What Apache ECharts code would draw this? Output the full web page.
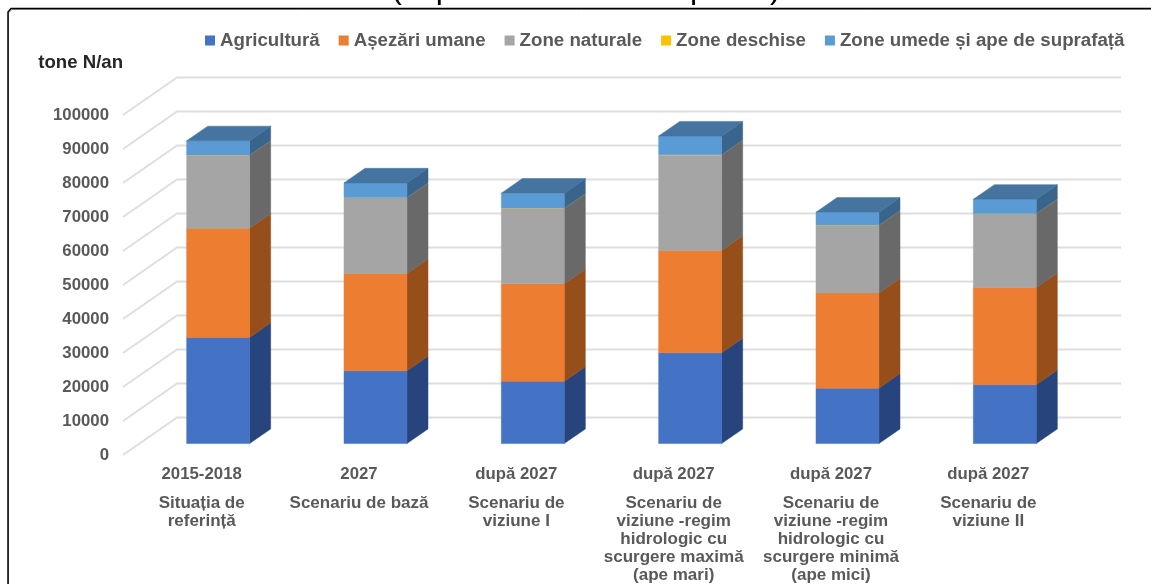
<!DOCTYPE html>
<html>
<head>
<meta charset="utf-8">
<style>
html,body{margin:0;padding:0;background:#fff;}
#c{width:1151px;height:584px;filter:blur(0.4px);}
</style>
<script src="https://cdn.jsdelivr.net/npm/echarts@6/dist/echarts.min.js"></script>
</head>
<body>
<div id="c"></div>
<script>
var titleText = '(exprimate în tone N pe an)';
var yName = 'tone N/an';
var years = ['2015-2018','2027','după 2027','după 2027','după 2027','după 2027'];
var scenarios = [
  ['Situația de','referință'],
  ['Scenariu de bază'],
  ['Scenariu de','viziune I'],
  ['Scenariu de','viziune -regim','hidrologic cu','scurgere maximă','(ape mari)'],
  ['Scenariu de','viziune -regim','hidrologic cu','scurgere minimă','(ape mici)'],
  ['Scenariu de','viziune II']
];
var categories = ['c0','c1','c2','c3','c4','c5'];
var yTicks = [0,10000,20000,30000,40000,50000,60000,70000,80000,90000,100000];

var agricultura = [31200,21400,18300,26700,16300,17300];
var asezari     = [32100,28600,28700,30100,28000,28600];
var naturale    = [21400,22200,22100,28000,19800,21600];
var deschise    = [150,150,150,150,150,150];
var umede       = [4200,4300,4400,5500,3800,4200];

var names   = ['Agricultură','Așezări umane','Zone naturale','Zone deschise','Zone umede și ape de suprafață'];
var values  = [agricultura,asezari,naturale,deschise,umede];
var front   = ['#4472C4','#ED7D31','#A5A5A5','#FFC000','#5B9BD5'];
var side    = ['#27457C','#964F1B','#696969','#9E7800','#39658C'];
var topFace = '#44749F';

var DEPTH_X = 54, DEPTH_Y = -37.5, BAR_NEAR = 0.305, BAR_FAR = 0.695, BAR_W = 0.4;
var TXT = '#595959', FONT = '"Liberation Sans", Arial, sans-serif';

function barRender(isTop, si){
  return function(params, api){
    var cat = api.value(0);
    var p0 = api.coord([cat, api.value(1)]);
    var p1 = api.coord([cat, api.value(2)]);
    var w = api.size([1,0])[0] * BAR_W;
    var nx = DEPTH_X*BAR_NEAR, ny = DEPTH_Y*BAR_NEAR;
    var fx = DEPTH_X*BAR_FAR,  fy = DEPTH_Y*BAR_FAR;
    var xl = p0[0]-w/2+nx, xr = p0[0]+w/2+nx;
    var yb = p0[1]+ny, yt = p1[1]+ny;
    var dx = fx-nx, dy = fy-ny;
    var lw = si === 3 ? 0 : 0.5;
    var kids = [
      {type:'polygon',shape:{points:[[xr,yb],[xr+dx,yb+dy],[xr+dx,yt+dy],[xr,yt]]},
       style:{fill:side[si],stroke:side[si],lineWidth:lw}},
      {type:'polygon',shape:{points:[[xl,yb],[xr,yb],[xr,yt],[xl,yt]]},
       style:{fill:front[si],stroke:front[si],lineWidth:lw}}
    ];
    if(isTop){
      kids.push({type:'polygon',shape:{points:[[xl,yt],[xr,yt],[xr+dx,yt+dy],[xl+dx,yt+dy]]},
        style:{fill:topFace,stroke:topFace,lineWidth:0.5}});
    }
    return {type:'group',children:kids};
  };
}

var series = [{
  type:'custom', name:'grid', silent:true, z:1, clip:false,
  data: yTicks.map(function(v){return [0,v];}),
  renderItem:function(params, api){
    var c = params.coordSys;
    var y = api.coord([0, api.value(1)])[1];
    var st = {stroke:'#DEDEDE',lineWidth:1.8,fill:null};
    return {type:'group',children:[
      {type:'polyline',shape:{points:[[c.x,y],[c.x+DEPTH_X,y+DEPTH_Y],[c.x+c.width+DEPTH_X,y+DEPTH_Y]]},style:st}
    ]};
  }
}];
var cum = categories.map(function(){return 0;});
values.forEach(function(vals, si){
  var data = vals.map(function(v,i){
    var d = [i, cum[i], cum[i]+v];
    cum[i] += v;
    return d;
  });
  series.push({
    type:'custom', name:names[si], z:2+si, clip:false,
    itemStyle:{color:front[si]},
    encode:{x:0,y:[1,2]},
    data:data,
    renderItem:barRender(si===values.length-1, si)
  });
});

var chart = echarts.init(document.getElementById('c'),null,{renderer:'canvas'});
chart.setOption({
  animation:false,
  backgroundColor:'#fff',
  grid:{left:123,right:84,top:115,bottom:129,containLabel:false},
  legend:{
    data:names, left:200, top:26, itemWidth:10, itemHeight:10, itemGap:19, icon:'rect',
    selectedMode:false,
    textStyle:{color:TXT,fontFamily:FONT,fontWeight:'bold',fontSize:18.7}
  },
  xAxis:{
    type:'category', data:categories,
    axisLine:{show:false},axisTick:{show:false},splitLine:{show:false},
    axisLabel:{
      interval:0, margin:10, hideOverlap:false,
      formatter:function(v,i){
        return '{y|'+years[i]+'}\n{g| }\n'+scenarios[i].map(function(s){return '{d|'+s+'}';}).join('\n');
      },
      rich:{
        y:{fontFamily:FONT,fontWeight:'bold',fontSize:16.8,color:TXT,lineHeight:18,align:'center'},
        g:{fontSize:6,lineHeight:11},
        d:{fontFamily:FONT,fontWeight:'bold',fontSize:17,color:TXT,lineHeight:18,align:'center'}
      }
    }
  },
  yAxis:{
    type:'value', min:0, max:100000, interval:10000,
    name:yName, nameLocation:'end', nameGap:43,
    nameTextStyle:{align:'right',fontFamily:FONT,fontWeight:'bold',fontSize:18.6,color:'#262626'},
    axisLine:{show:false},axisTick:{show:false},splitLine:{show:false},
    axisLabel:{margin:14,fontFamily:FONT,fontWeight:'bold',fontSize:16.8,color:TXT,
      formatter:function(v){return String(v);}}
  },
  graphic:[
    {type:'polyline',silent:true,shape:{points:[[8.5,584],[8.5,13],[12,9.5],[1151,9.5]]},
     style:{stroke:'#9a9a9a',lineWidth:1,fill:null},z:1},
    {type:'polyline',silent:true,shape:{points:[[8,584],[8,12],[11,8.5],[1151,8.5]]},
     style:{stroke:'#000',lineWidth:1.5,fill:null},z:2},
    {type:'text',silent:true,x:586,y:-27,z:0,
     style:{text:titleText,align:'center',verticalAlign:'top',fontFamily:FONT,fontSize:32,fill:'#000'}}
  ],
  series:series
});
</script>
</body>
</html>
